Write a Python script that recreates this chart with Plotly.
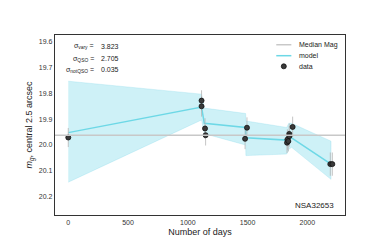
import plotly.graph_objects as go

# ---- data ----
days = [0, 1115, 1115, 1144, 1149, 1479, 1495, 1830, 1833, 1841, 1849, 1849, 1877, 2192, 2209]
mags = [19.971, 19.828, 19.850, 19.936, 19.962, 19.976, 19.933, 19.991, 19.979, 19.985,
        19.957, 19.966, 19.930, 20.074, 20.074]
errs = [0.037, 0.040, 0.040, 0.040, 0.040, 0.040, 0.040, 0.040, 0.040, 0.040,
        0.040, 0.040, 0.040, 0.045, 0.045]

model_t = [0, 1115, 1138, 1484, 1486, 1827, 1845, 1868, 2198]
model_m = [19.952, 19.853, 19.916, 19.932, 19.972, 19.981, 19.966, 19.972, 20.074]
band_lo = [19.753, 19.803, 19.857, 19.878, 19.907, 19.932, 19.916, 19.916, 19.985]
band_hi = [20.144, 19.903, 19.956, 20.000, 20.041, 20.035, 20.016, 20.009, 20.133]

median_mag = 19.962
stats_labels = ["σ<sub>vary</sub> =", "σ<sub>QSO</sub> =", "σ<sub>notQSO</sub> ="]
stats_values = ["3.823", "2.705", "0.035"]
legend_labels = ["Median Mag", "model", "data"]
object_name = "NSA32653"
x_ticks = [0, 500, 1000, 1500, 2000]
y_ticks = [19.6, 19.7, 19.8, 19.9, 20.0, 20.1, 20.2]

FONT = "Liberation Sans, Arial, sans-serif"
CYAN = "#6dd8e6"
GREY = "#c8c8c8"
FILL = "rgba(120,215,232,0.36)"
MARK = "#3a3a3a"

fig = go.Figure()

# band
fig.add_trace(go.Scatter(
    x=model_t + model_t[::-1], y=band_lo + band_hi[::-1],
    fill="toself", fillcolor=FILL, line=dict(width=0.4, color="rgba(110,210,228,0.6)"),
    mode="lines", hoverinfo="skip", showlegend=False))

# median line
fig.add_hline(y=median_mag, line=dict(color=GREY, width=1.5), layer="above")

# model
fig.add_trace(go.Scatter(x=model_t, y=model_m, mode="lines", name="model",
                         line=dict(color=CYAN, width=1.5), showlegend=False))

# data
fig.add_trace(go.Scatter(
    x=days, y=mags, mode="markers", name="data", showlegend=False,
    marker=dict(size=5, color=MARK, line=dict(color="#111111", width=0.8)),
    error_y=dict(type="data", array=errs, color="#b5b5b5", thickness=0.8, width=0)))

axis_common = dict(showline=True, linecolor="#333333", linewidth=1.3, mirror=True,
                   showgrid=False, zeroline=False, ticks="",
                   tickfont=dict(family=FONT, size=7, color="#333333"))

fig.update_xaxes(range=[-111, 2315], tickvals=x_ticks,
                 title=dict(text="Number of days", font=dict(family=FONT, size=9, color="#222"),
                            standoff=4),
                 **axis_common)
fig.update_yaxes(range=[20.271, 19.574], tickvals=y_ticks, ticktext=[f"{v:.1f}" for v in y_ticks],
                 title=dict(text="<i>m<sub>g</sub></i>, central 2.5 arcsec",
                            font=dict(family=FONT, size=9, color="#222"), standoff=4),
                 **axis_common)

ys = [0.937, 0.869, 0.806]
for lab, val, yy in zip(stats_labels, stats_values, ys):
    fig.add_annotation(x=0.143, y=yy, xref="paper", yref="paper", text=lab, showarrow=False,
                       xanchor="right", yanchor="middle",
                       font=dict(family=FONT, size=7, color="#222"))
    fig.add_annotation(x=0.153, y=yy, xref="paper", yref="paper", text=val, showarrow=False,
                       xanchor="left", yanchor="middle",
                       font=dict(family=FONT, size=7, color="#222"))

# manual compact legend
leg_y = [0.946, 0.885, 0.826]
fig.add_shape(type="line", xref="paper", yref="paper", x0=0.763, x1=0.815,
              y0=leg_y[0], y1=leg_y[0], line=dict(color=GREY, width=1.5))
fig.add_shape(type="line", xref="paper", yref="paper", x0=0.763, x1=0.815,
              y0=leg_y[1], y1=leg_y[1], line=dict(color=CYAN, width=1.5))
fig.add_shape(type="circle", xref="paper", yref="paper", xsizemode="pixel", ysizemode="pixel",
              xanchor=0.789, yanchor=leg_y[2], x0=-2.5, x1=2.5, y0=-2.5, y1=2.5,
              fillcolor=MARK, line=dict(color="#111111", width=0.8))
for lab, yy in zip(legend_labels, leg_y):
    fig.add_annotation(x=0.833, y=yy, xref="paper", yref="paper", text=lab, showarrow=False,
                       xanchor="left", yanchor="middle",
                       font=dict(family=FONT, size=7, color="#222"))

fig.add_annotation(x=0.97, y=0.055, xref="paper", yref="paper", text=object_name,
                   showarrow=False, xanchor="right", yanchor="middle",
                   font=dict(family=FONT, size=8, color="#222"))

fig.update_layout(
    width=374, height=240,
    margin=dict(l=47, r=37, t=27, b=27),
    paper_bgcolor="white", plot_bgcolor="white",
    showlegend=False,
)

fig.write_html("out.html")
